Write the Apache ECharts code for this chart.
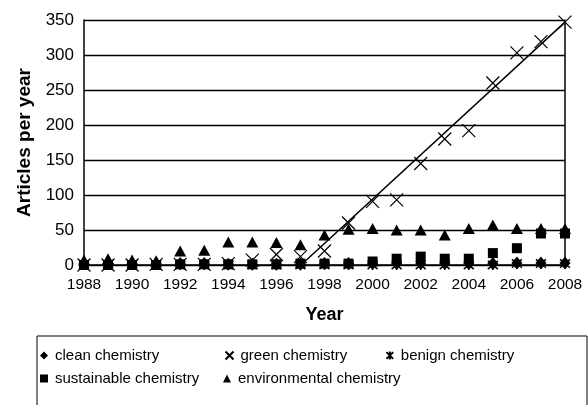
<!DOCTYPE html>
<html>
<head>
<meta charset="utf-8">
<script src="https://cdn.jsdelivr.net/npm/echarts@6/dist/echarts.min.js"></script>
<style>
  html, body { margin: 0; padding: 0; background: #fff; }
  #chart { width: 588px; height: 405px; }
</style>
</head>
<body>
<div id="chart"></div>
<script>
// data
var years = [1988, 1989, 1990, 1991, 1992, 1993, 1994, 1995, 1996, 1997, 1998,
             1999, 2000, 2001, 2002, 2003, 2004, 2005, 2006, 2007, 2008]
var cleanChem = [2, 2, 2, 2, 2, 2, 1, 1, 1, 1, 2, 2, 2, 2, 2, 2, 2, 2, 3, 3, 3]
var greenChem = [0, 0, 0, 1, 1, 1, 2, 7, 15, 12, 20, 60, 91, 93, 145, 180, 192, 260, 303, 319, 347]
var benignChem = [1, 1, 1, 1, 0, 0, 0, 0, 0, 0, 0, 0, 0, 0, 0, 0, 0, 0, 2, 2, 2]
var sustainableChem = [0, 0, 0, 0, 1, 1, 1, 1, 1, 2, 2, 2, 5, 9, 12, 9, 9, 17, 24, 45, 45]
var environmentalChem = [7, 9, 7, 6, 20, 21, 33, 33, 32, 29, 43, 51, 52, 50, 50, 43, 52, 57, 52, 52, 52]
// linear trend of green chemistry (end points)
var trendX = [1996.9, 2008]
var trendY = [-4, 347]
var yTicks = [0, 50, 100, 150, 200, 250, 300, 350]

var font = 'Liberation Sans, Arial, sans-serif'
var crossPath = 'path://M0,0L10,10M10,0L0,10'
var starPath = 'path://M0,0L10,10M10,0L0,10M5,-1L5,11'

function pairs(xs, ys) {
  return xs.map(function (x, i) { return [x, ys[i]] })
}

var chart = echarts.init(document.getElementById('chart'))

function legendAt(name, left, top) {
  return {
    data: [name],
    left: left,
    top: top,
    itemWidth: 8,
    itemHeight: 8,
    padding: 0,
    textStyle: { fontFamily: font, fontSize: 15, color: '#000', padding: [0, 0, 0, 2] }
  }
}

chart.setOption({
  animation: false,
  grid: { left: 84, right: 23, top: 20, bottom: 140 },
  graphic: [{
    type: 'rect',
    shape: { x: 37, y: 336, width: 550, height: 80 },
    style: { fill: 'none', stroke: '#000', lineWidth: 1 }
  }],
  legend: [
    legendAt('clean chemistry', 40, 348),
    legendAt('green chemistry', 223, 348),
    legendAt('benign chemistry', 384, 348),
    legendAt('sustainable chemistry', 40, 371),
    legendAt('environmental chemistry', 223, 371)
  ],
  xAxis: {
    type: 'value',
    min: 1988,
    max: 2008,
    interval: 2,
    name: 'Year',
    nameLocation: 'middle',
    nameGap: 41,
    nameTextStyle: { fontFamily: font, fontSize: 18, fontWeight: 'bold', color: '#000' },
    axisLine: { show: true, onZero: false, lineStyle: { color: '#000', width: 1.5 } },
    axisTick: { show: false },
    axisLabel: {
      fontFamily: font, fontSize: 15.5, color: '#000', margin: 12,
      formatter: function (v) { return String(v) }
    },
    splitLine: { show: false }
  },
  yAxis: [{
    type: 'value',
    min: 0,
    max: 350,
    interval: 50,
    name: 'Articles per year',
    nameLocation: 'middle',
    nameGap: 50,
    nameTextStyle: { fontFamily: font, fontSize: 19, fontWeight: 'bold', color: '#000' },
    axisLine: { show: true, lineStyle: { color: '#000', width: 1.5 } },
    axisTick: { show: false },
    axisLabel: {
      fontFamily: font, fontSize: 17, color: '#000', margin: 10,
      formatter: function (v) { return yTicks.indexOf(v) >= 0 ? String(v) : '' }
    },
    splitLine: { show: true, lineStyle: { color: '#000', width: 1.3 } }
  }, {
    type: 'value',
    min: 0,
    max: 350,
    interval: 50,
    position: 'right',
    axisLine: { show: true, lineStyle: { color: '#000', width: 1.5 } },
    axisTick: { show: false },
    axisLabel: { show: false },
    splitLine: { show: false }
  }],
  series: [
    {
      name: 'clean chemistry',
      type: 'scatter',
      symbol: 'diamond',
      symbolSize: [11, 13],
      itemStyle: { color: '#000', opacity: 1 },
      data: pairs(years, cleanChem)
    },
    {
      name: 'sustainable chemistry',
      type: 'scatter',
      symbol: 'rect',
      symbolSize: 10,
      itemStyle: { color: '#000', opacity: 1 },
      data: pairs(years, sustainableChem)
    },
    {
      name: 'environmental chemistry',
      type: 'scatter',
      symbol: 'triangle',
      symbolSize: [12, 11],
      itemStyle: { color: '#000', opacity: 1 },
      data: pairs(years, environmentalChem)
    },
    {
      name: 'benign chemistry',
      type: 'scatter',
      symbol: starPath,
      symbolSize: 10,
      itemStyle: { color: 'none', borderColor: '#000', borderWidth: 1.5, opacity: 1 },
      data: pairs(years, benignChem)
    },
    {
      name: 'green chemistry',
      type: 'scatter',
      symbol: crossPath,
      symbolSize: 13,
      itemStyle: { color: 'none', borderColor: '#000', borderWidth: 1.2, opacity: 1 },
      data: pairs(years, greenChem)
    },
    {
      name: 'trend',
      type: 'line',
      showSymbol: false,
      clip: false,
      lineStyle: { color: '#000', width: 1.5 },
      data: pairs(trendX, trendY)
    }
  ]
})
</script>
</body>
</html>
